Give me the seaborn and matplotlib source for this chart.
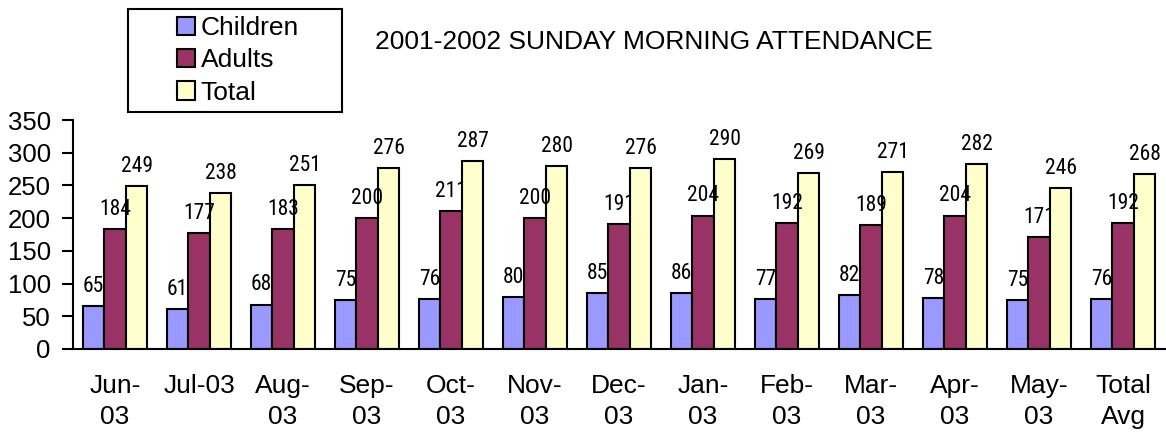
import numpy as np
import pandas as pd
import seaborn as sns
import matplotlib.pyplot as plt
from matplotlib.patches import Rectangle
from matplotlib import font_manager

months = ["Jun-\n03", "Jul-03", "Aug-\n03", "Sep-\n03", "Oct-\n03", "Nov-\n03", "Dec-\n03",
          "Jan-\n03", "Feb-\n03", "Mar-\n03", "Apr-\n03", "May-\n03", "Total\nAvg"]
children = [65, 61, 68, 75, 76, 80, 85, 86, 77, 82, 78, 75, 76]
adults = [184, 177, 183, 200, 211, 200, 191, 204, 192, 189, 204, 171, 192]
total = [249, 238, 251, 276, 287, 280, 276, 290, 269, 271, 282, 246, 268]
series = ["Children", "Adults", "Total"]
colors = ["#9999FF", "#993366", "#FFFFCC"]

df = pd.DataFrame({
    "month": months * 3,
    "value": children + adults + total,
    "series": ["Children"] * 13 + ["Adults"] * 13 + ["Total"] * 13,
})

sns.set_style("white")
plt.rcParams["font.family"] = ["Liberation Sans", "DejaVu Sans"]
plt.rcParams["text.color"] = "black"
plt.rcParams["xtick.color"] = "black"
plt.rcParams["ytick.color"] = "black"

# narrow font for the value labels, if one is around
names = {f.name for f in font_manager.fontManager.ttflist}
narrow = [n for n in ["Liberation Sans Narrow", "DejaVu Sans Condensed", "Roboto Condensed"]
          if n in names]
label_family = narrow + ["Liberation Sans"]

fig = plt.figure(figsize=(11.66, 4.34), dpi=100)
ax = fig.add_axes([73 / 1166, 1 - 349 / 434, 1092 / 1166, 229 / 434])

sns.barplot(data=df, x="month", y="value", hue="series", hue_order=series,
            palette=colors, saturation=1, edgecolor="black", linewidth=1.5,
            width=0.77, ax=ax, legend=True)

for c in ax.containers:
    ax.bar_label(c, padding=6.5, fontsize=15.5, family=label_family,
                 fontstretch="condensed")

ax.set_ylim(0, 350)
ax.set_yticks(range(0, 351, 50))
ax.set_xlim(-0.5, 12.5)
ax.set_xticks(np.arange(-0.5, 13, 1))
ax.set_xticklabels([])
ax.set_xticks(np.arange(13), labels=months, minor=True)
ax.tick_params(axis="x", which="major", direction="out", length=8, width=1.5, color="black")
ax.tick_params(axis="x", which="minor", length=0, pad=18, labelsize=19)
ax.tick_params(axis="y", direction="out", length=8, width=1.5, color="black",
               pad=8, labelsize=18.5, left=True)
for t in ax.get_xticklabels(minor=True):
    t.set_linespacing(1.35)
ax.set_xlabel("")
ax.set_ylabel("")
sns.despine(ax=ax, top=True, right=True)
for s in ["left", "bottom"]:
    ax.spines[s].set_color("black")
    ax.spines[s].set_linewidth(1.5)

handles, labels = ax.get_legend_handles_labels()
ax.get_legend().remove()
fig.legend(handles, labels, loc="upper left", bbox_to_anchor=(177 / 1166, 1 - 16 / 434),
           frameon=False, fontsize=19, handlelength=0.7, handleheight=0.7,
           handletextpad=0.2, labelspacing=0.32, borderpad=0, borderaxespad=0)
fig.add_artist(Rectangle((128 / 1166, 1 - 112 / 434), 214 / 1166, 103 / 434,
                         transform=fig.transFigure, fill=False, edgecolor="black", linewidth=1.5))

fig.text(654 / 1166, 1 - 42 / 434, "2001-2002 SUNDAY MORNING ATTENDANCE",
         ha="center", va="center", fontsize=19)

fig.savefig("out.png", dpi=100)
